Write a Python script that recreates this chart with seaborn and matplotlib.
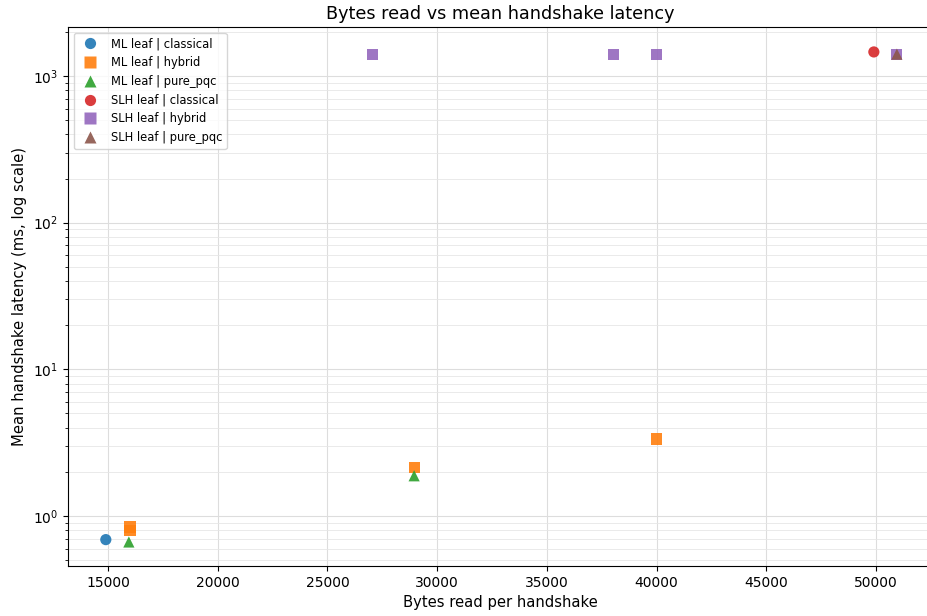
import seaborn as sns
import matplotlib.pyplot as plt
import pandas as pd

# Data
leaf = ["ML leaf", "ML leaf", "ML leaf", "ML leaf", "ML leaf", "ML leaf", "ML leaf",
        "SLH leaf", "SLH leaf", "SLH leaf", "SLH leaf", "SLH leaf", "SLH leaf"]
mode = ["classical", "hybrid", "hybrid", "hybrid", "hybrid", "pure_pqc", "pure_pqc",
        "classical", "hybrid", "hybrid", "hybrid", "hybrid", "pure_pqc"]
bytes_read = [14900, 16000, 16000, 28950, 40000, 15950, 28950,
              49900, 27050, 38050, 40000, 50950, 50950]
latency_ms = [0.69, 0.84, 0.80, 2.15, 3.35, 0.665, 1.88,
              1460, 1400, 1400, 1400, 1400, 1410]

order = ["ML leaf | classical", "ML leaf | hybrid", "ML leaf | pure_pqc",
         "SLH leaf | classical", "SLH leaf | hybrid", "SLH leaf | pure_pqc"]
marker_for = {"classical": "o", "hybrid": "s", "pure_pqc": "^"}

df = pd.DataFrame({"leaf": leaf, "mode": mode, "bytes": bytes_read, "latency": latency_ms})
df["series"] = df["leaf"] + " | " + df["mode"]

W, H = 927, 616
fig = plt.figure(figsize=(W / 100, H / 100), dpi=100)
# axes box placed to match the reference (right spine falls just off the canvas)
ax = fig.add_axes([68 / W, (H - 566) / H, (932 - 68) / W, (566 - 27) / H])

palette = sns.color_palette("tab10", 6)
markers = {s: marker_for[s.split(" | ")[1]] for s in order}

sns.scatterplot(data=df, x="bytes", y="latency", hue="series", style="series",
                hue_order=order, style_order=order, palette=palette, markers=markers,
                s=65, alpha=0.9, edgecolor="none", ax=ax, zorder=3)

ax.set_yscale("log")
ax.set_xlim(13177, 52550)
ax.set_ylim(0.456, 2160)
ax.grid(True, which="major", color="#dddddd", linewidth=0.8)
ax.grid(True, which="minor", axis="y", color="#e6e6e6", linewidth=0.6)
ax.set_axisbelow(True)

ax.set_title("Bytes read vs mean handshake latency", fontsize=12.7)
ax.set_xlabel("Bytes read per handshake", fontsize=10.6)
ax.set_ylabel("Mean handshake latency (ms, log scale)", fontsize=10.6)
ax.tick_params(labelsize=10)

ax.legend(loc="upper left", fontsize=8.3, framealpha=0.8, title=None)

plt.savefig("out.png", dpi=100)
plt.close()
